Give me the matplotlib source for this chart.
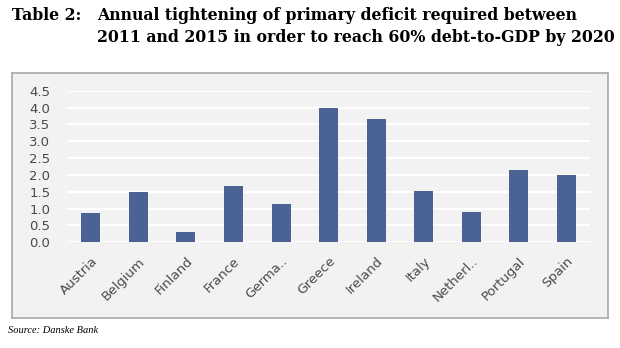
import matplotlib.pyplot as plt

countries = ['Austria', 'Belgium', 'Finland', 'France', 'Germa..', 'Greece',
             'Ireland', 'Italy', 'Netherl..', 'Portugal', 'Spain']
values = [0.88, 1.49, 0.30, 1.68, 1.15, 4.00, 3.65, 1.53, 0.91, 2.15, 1.99]
yticks = [0.0, 0.5, 1.0, 1.5, 2.0, 2.5, 3.0, 3.5, 4.0, 4.5]

fig = plt.figure(figsize=(6.2, 3.48), dpi=100)
fig.patch.set_facecolor('white')

# grey panel behind the chart
bg = fig.add_axes([0.019, 0.086, 0.962, 0.704], zorder=0)
bg.set_facecolor('#f2f2f2')
bg.set_xticks([])
bg.set_yticks([])
for s in bg.spines.values():
    s.set_color('#a8a8a8')
    s.set_linewidth(1.2)

ax = fig.add_axes([0.108, 0.304, 0.844, 0.435], zorder=1)
ax.set_facecolor('none')
x = range(len(countries))
ax.bar(x, values, width=0.4, color='#4b6294', zorder=3)
ax.set_xlim(-0.5, 10.5)
ax.set_ylim(0, 4.5)
ax.set_yticks(yticks)
ax.set_yticklabels(['%.1f' % v for v in yticks], fontsize=9.5, color='#4a4a4a')
ax.set_xticks(list(x))
ax.set_xticklabels(countries, rotation=45, ha='right', rotation_mode='anchor',
                   fontsize=9.5, color='#4a4a4a')
ax.tick_params(axis='x', length=0, pad=9)
ax.tick_params(axis='y', length=0, pad=12)
for s in ax.spines.values():
    s.set_visible(False)
ax.yaxis.grid(True, color='white', lw=1.5, zorder=1)
ax.set_axisbelow(True)

tfont = dict(fontsize=11.3, fontweight='bold', family='DejaVu Serif', va='center')
fig.text(0.019, 0.955, 'Table 2:', **tfont)
fig.text(0.156, 0.955, 'Annual tightening of primary deficit required between', **tfont)
fig.text(0.156, 0.892, '2011 and 2015 in order to reach 60% debt-to-GDP by 2020', **tfont)
fig.text(0.013, 0.05, 'Source: Danske Bank', fontsize=7.5, style='italic',
         family='Liberation Serif', va='center')

fig.savefig('out.png', dpi=100)
